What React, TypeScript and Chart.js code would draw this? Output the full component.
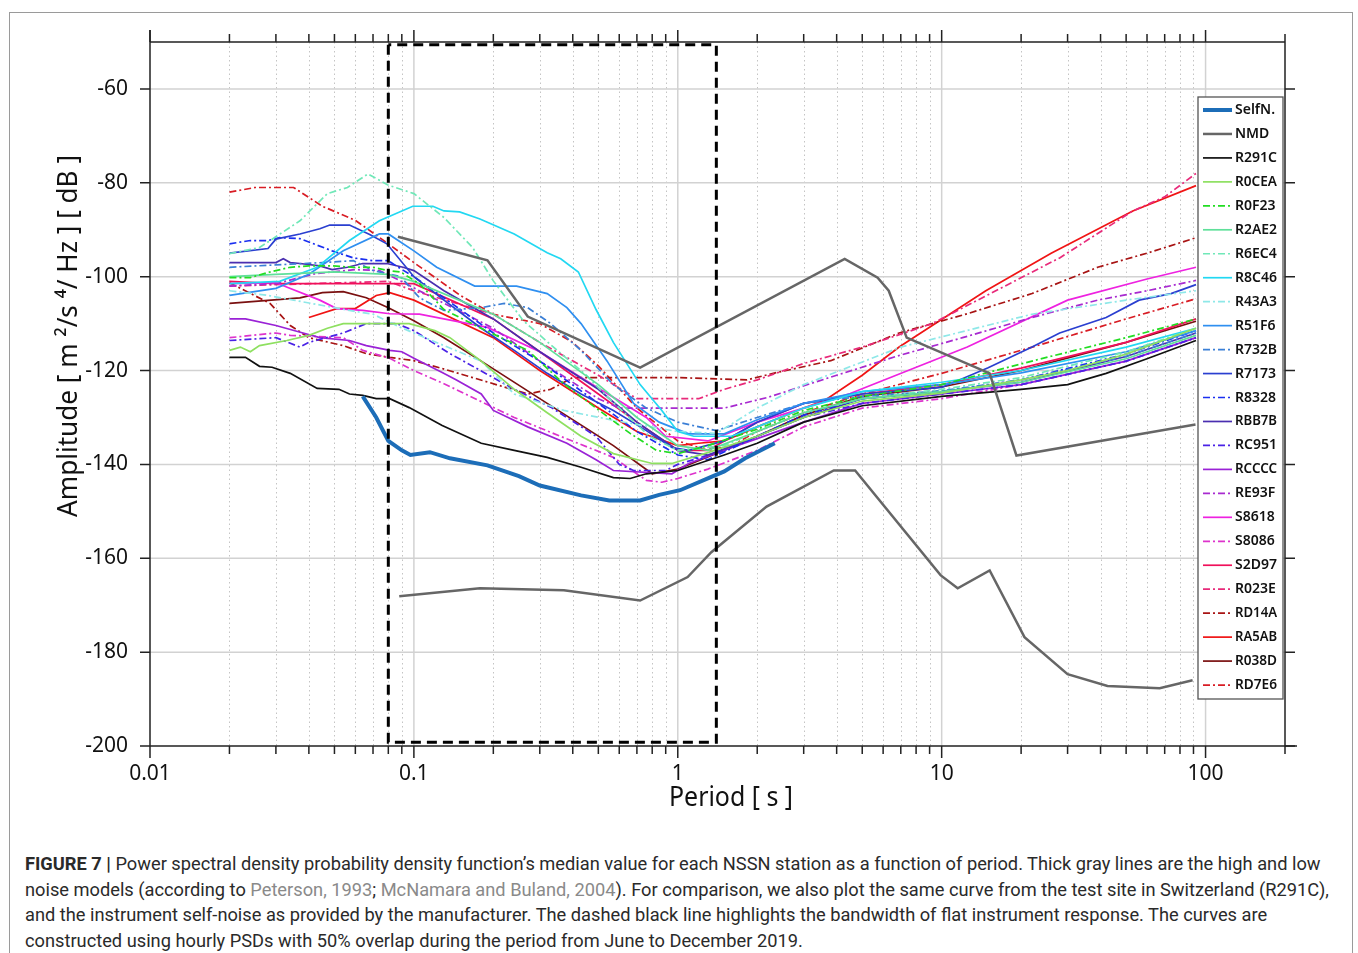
import React, { useEffect, useRef } from 'react';
import { Chart, registerables } from 'chart.js';

Chart.register(...registerables);

type Pt = [number, number];

// ---- axes ----
const X_MIN = 0.01;
const X_MAX = 200;
const Y_MIN = -200;
const Y_MAX = -50;
const X_DECADES = [0.01, 0.1, 1, 10, 100];
const Y_TICKS = [-200, -180, -160, -140, -120, -100, -80, -60];

// flat instrument response band (dashed box)
const BAND_PERIODS = [0.08, 1.4];
const BAND_DB = [-50.6, -199.2];

// ---- series: [period s, amplitude dB] ----
const SELFN: Pt[] = [[0.064, -125.5], [0.072, -130], [0.08, -135], [0.09, -137], [0.097, -138], [0.115, -137.4], [0.137, -138.7], [0.19, -140.2], [0.25, -142.5], [0.3, -144.5], [0.43, -146.6], [0.55, -147.7], [0.72, -147.7], [0.85, -146.5], [1.02, -145.5], [1.32, -142.8], [1.5, -141.5], [1.8, -138.7], [2.33, -135.5]];
const NMD_HIGH: Pt[] = [[0.087, -91.5], [0.19, -96.5], [0.27, -108.5], [0.72, -119.4], [4.29, -96.2], [5.72, -100.2], [6.3, -103], [7.37, -113], [15.2, -120.6], [19.2, -138.1], [91.6, -131.5]];
const NMD_LOW: Pt[] = [[0.088, -168.1], [0.178, -166.4], [0.37, -166.8], [0.72, -169], [1.09, -164], [1.34, -158.7], [2.17, -149], [3.9, -141.3], [4.7, -141.3], [9.9, -163.6], [11.5, -166.4], [15.2, -162.6], [20.6, -176.8], [30, -184.7], [42.5, -187.2], [67, -187.7], [89.3, -186]];
const R291C: Pt[] = [[0.02, -117.2], [0.023, -117.2], [0.026, -119.1], [0.029, -119.3], [0.034, -120.6], [0.043, -123.8], [0.052, -124], [0.057, -125], [0.064, -125.3], [0.072, -126], [0.081, -126], [0.096, -127.9], [0.128, -131.7], [0.18, -135.5], [0.24, -137], [0.32, -138.5], [0.43, -140.6], [0.57, -142.8], [0.66, -143], [0.76, -142], [1, -141.3], [1.5, -138], [2, -135.5], [3, -131], [5, -127.5], [10, -125.5], [20, -124], [30, -123], [42, -120.6], [60, -117.5], [92, -113.6]];
const R0CEA: Pt[] = [[0.02, -115.7], [0.022, -115], [0.024, -116], [0.026, -114.7], [0.033, -113.6], [0.04, -112.5], [0.047, -111], [0.054, -110], [0.096, -110], [0.12, -111.5], [0.137, -113], [0.18, -118], [0.24, -124], [0.32, -129], [0.43, -134], [0.57, -137.7], [0.8, -139.8], [0.95, -139.8], [1.3, -137.5], [2, -134], [3, -130], [5, -126.5], [10, -124.8], [20, -122], [30, -120], [50, -116.5], [92, -111]];
const R0F23: Pt[] = [[0.02, -100.2], [0.024, -100.2], [0.028, -99.1], [0.034, -98], [0.04, -97.7], [0.049, -97.7], [0.059, -98], [0.07, -98], [0.08, -98.7], [0.089, -99], [0.105, -101.5], [0.13, -107], [0.18, -111], [0.27, -115.7], [0.37, -122.8], [0.49, -128], [0.66, -133.4], [0.83, -137], [1, -137.7], [1.3, -136], [2, -132.5], [3, -128.5], [5, -125.5], [10, -123], [23, -117.7], [50, -113], [92, -109]];
const R2AE2: Pt[] = [[0.02, -100], [0.03, -99.5], [0.05, -99], [0.08, -99.5], [0.1, -101], [0.2, -108], [0.3, -114], [0.5, -123], [0.7, -130], [1, -136], [1.3, -137], [2, -133], [3, -129], [5, -126], [10, -124.5], [20, -122.5], [50, -117.5], [92, -112.5]];
const R6EC4: Pt[] = [[0.02, -95.1], [0.026, -93.8], [0.037, -88.1], [0.047, -82.3], [0.056, -81], [0.067, -78.1], [0.08, -80.5], [0.1, -82.3], [0.13, -87.4], [0.167, -93.8], [0.2, -100.9], [0.26, -109.4], [0.33, -114.5], [0.45, -121], [0.55, -126], [0.78, -134], [1, -137], [1.5, -136], [2, -133], [3, -129], [5, -126], [10, -124], [20, -121.5], [50, -116], [92, -111]];
const R8C46: Pt[] = [[0.02, -101.5], [0.031, -101], [0.043, -98], [0.057, -92.3], [0.074, -88.1], [0.099, -85], [0.118, -85], [0.13, -86], [0.149, -86.2], [0.178, -87.7], [0.24, -90.9], [0.32, -94.9], [0.36, -96.2], [0.42, -99], [0.49, -107], [0.57, -114], [0.72, -123], [0.87, -128.5], [1, -133], [1.15, -134], [1.6, -134], [2, -132], [3, -128], [5, -124.5], [10, -122.5], [20, -120], [50, -115], [92, -111]];
const R43A3: Pt[] = [[0.02, -103], [0.028, -104], [0.035, -105], [0.057, -107.2], [0.07, -108], [0.089, -110.8], [0.1, -112], [0.18, -118], [0.24, -125], [0.37, -128.5], [0.57, -130.6], [1, -133], [1.4, -133.4], [2, -128], [3, -123], [7, -115], [22, -108], [50, -105], [92, -103]];
const R51F6: Pt[] = [[0.02, -104], [0.03, -102.5], [0.04, -99.5], [0.054, -94.5], [0.074, -90.9], [0.08, -90.9], [0.1, -94.5], [0.122, -98], [0.17, -102], [0.245, -102], [0.32, -103.6], [0.38, -106.6], [0.43, -110], [0.54, -118], [0.68, -127], [0.85, -131], [1.1, -133.5], [1.5, -133.5], [2, -130.5], [3, -127], [5, -124.5], [10, -123], [20, -120.5], [50, -116], [92, -111.5]];
const R732B: Pt[] = [[0.02, -98], [0.03, -97.5], [0.045, -97], [0.059, -96.6], [0.07, -98.7], [0.089, -100], [0.105, -104.5], [0.13, -107.2], [0.18, -106.6], [0.22, -105.7], [0.27, -106.6], [0.33, -110], [0.43, -115.7], [0.57, -123], [0.76, -128], [1, -131], [1.4, -132.8], [2, -130], [3, -127], [5, -125.5], [10, -124.3], [20, -122], [50, -117], [92, -112]];
const R7173: Pt[] = [[0.02, -95], [0.028, -94], [0.03, -92], [0.037, -90.9], [0.044, -89.8], [0.048, -89], [0.057, -89], [0.068, -91], [0.079, -93], [0.1, -100], [0.13, -105], [0.18, -111], [0.24, -115.7], [0.32, -120.6], [0.43, -125], [0.57, -128.5], [0.76, -132.8], [0.95, -136.4], [1.1, -137], [1.5, -135], [2, -131], [3, -127], [5, -125], [10, -123.6], [15, -119.4], [22, -115], [28, -112], [42, -108.7], [56, -105], [74, -103.6], [92, -101.7]];
const R8328: Pt[] = [[0.02, -93], [0.024, -92.3], [0.028, -92.3], [0.031, -91.7], [0.037, -91.9], [0.049, -94.5], [0.059, -96], [0.07, -96.6], [0.08, -96.6], [0.089, -98.3], [0.1, -100], [0.15, -107], [0.2, -112], [0.3, -118], [0.5, -127], [0.7, -133], [1, -138], [1.3, -139], [2, -134], [3, -129.5], [5, -126], [10, -124.5], [20, -122], [50, -116.5], [92, -111.5]];
const RBB7B: Pt[] = [[0.02, -97], [0.03, -97], [0.032, -96.2], [0.034, -97], [0.037, -97.2], [0.044, -97.7], [0.049, -98.5], [0.056, -98], [0.064, -97.2], [0.079, -97.2], [0.091, -98], [0.1, -98.7], [0.13, -103], [0.2, -109], [0.3, -116], [0.5, -124], [0.7, -131], [1, -137], [1.3, -138], [2, -134], [3, -130], [5, -126], [10, -124.5], [20, -122.5], [50, -117], [92, -112]];
const RC951: Pt[] = [[0.02, -113.6], [0.03, -113], [0.037, -115], [0.04, -114], [0.054, -112], [0.066, -110], [0.086, -110], [0.1, -111.5], [0.137, -116.4], [0.24, -124], [0.33, -127.8], [0.49, -134], [0.6, -140], [0.68, -141.3], [0.9, -141.3], [1, -140], [1.5, -137], [2, -134], [3, -130], [5, -127], [10, -125], [20, -123], [50, -118], [92, -113]];
const RCCCC: Pt[] = [[0.02, -109], [0.023, -109], [0.03, -110.4], [0.038, -112], [0.044, -113], [0.057, -113.6], [0.066, -114.7], [0.081, -115.7], [0.09, -116], [0.1, -117.4], [0.128, -120.4], [0.145, -122], [0.18, -125], [0.2, -128.5], [0.27, -132], [0.38, -135.5], [0.49, -139], [0.57, -141.3], [0.95, -142], [1.1, -139.8], [1.5, -137], [2, -134.5], [3, -131], [5, -127], [10, -125], [20, -123], [50, -118], [92, -113]];
const RE93F: Pt[] = [[0.02, -102], [0.03, -101.5], [0.042, -99.4], [0.06, -98.5], [0.074, -98.7], [0.089, -100.9], [0.11, -103.6], [0.2, -111], [0.3, -118], [0.5, -126], [0.6, -128], [1.5, -128], [2.2, -125.7], [4, -121], [6.9, -116.8], [12, -113], [22, -108.7], [39, -105], [60, -103], [92, -100.8]];
const S8618: Pt[] = [[0.02, -101.5], [0.03, -101.3], [0.044, -105], [0.051, -106.8], [0.064, -107.2], [0.081, -107.9], [0.105, -108], [0.19, -110.8], [0.3, -116], [0.43, -121.5], [0.76, -130], [0.9, -134], [1.3, -135], [2, -131], [3, -128], [4.5, -124.9], [12.5, -115], [30, -105], [60, -100.5], [92, -98]];
const S8086: Pt[] = [[0.02, -113], [0.03, -112], [0.034, -112.5], [0.054, -113], [0.064, -115.7], [0.081, -117.4], [0.1, -120], [0.13, -122.8], [0.24, -130], [0.37, -134.3], [0.57, -138.5], [0.76, -143.4], [0.87, -143.8], [1, -143], [1.3, -141], [2, -137], [3, -132], [5, -128], [10, -126], [20, -123], [50, -118], [92, -113]];
const S2D97: Pt[] = [[0.02, -101], [0.03, -101.5], [0.05, -101.5], [0.1, -101.5], [0.2, -109], [0.3, -116], [0.5, -125], [0.7, -131], [1, -137], [1.3, -137], [2, -131], [3, -127], [5, -125], [10, -123], [20, -119.5], [50, -114], [92, -109]];
const R023E: Pt[] = [[0.02, -102], [0.04, -101.5], [0.08, -101], [0.1, -103], [0.2, -108], [0.3, -114], [0.5, -121], [0.7, -126], [1.2, -126], [1.5, -124], [2, -122], [3, -118.5], [5, -115], [9.2, -110], [28, -96], [53, -86], [70, -83], [92, -78]];
const RD14A: Pt[] = [[0.02, -101.3], [0.0285, -105.7], [0.034, -110.4], [0.04, -113], [0.054, -114.7], [0.066, -116.4], [0.081, -117.2], [0.1, -117.9], [0.125, -119.4], [0.167, -121.5], [0.27, -125], [0.33, -124], [0.4, -121.5], [1, -121.5], [1.83, -122], [2.3, -120.6], [3.8, -117.9], [6.9, -112], [12.5, -107.9], [22, -103.6], [39, -98], [60, -95], [92, -91.7]];
const RA5AB: Pt[] = [[0.04, -108.7], [0.051, -106.8], [0.06, -106.8], [0.072, -104], [0.081, -103.4], [0.1, -105], [0.2, -113], [0.3, -120], [0.5, -128], [0.7, -133], [1, -136], [1.2, -135.5], [1.5, -135], [2, -132], [3, -128], [3.6, -126.4], [5, -121], [6.9, -115], [14.7, -103], [26, -95], [53, -86], [92, -80.6]];
const R038D: Pt[] = [[0.02, -105.7], [0.037, -104.5], [0.045, -103.4], [0.054, -103.2], [0.066, -104.5], [0.08, -106.6], [0.1, -109.4], [0.13, -113], [0.18, -118], [0.32, -127], [0.57, -136], [0.8, -142], [1, -141], [1.5, -137], [2, -134], [3, -129.5], [5, -125.5], [10, -123.5], [20, -120], [50, -114], [92, -109.5]];
const RD7E6: Pt[] = [[0.02, -82], [0.025, -81], [0.035, -81], [0.045, -85], [0.06, -88], [0.08, -93], [0.1, -97], [0.15, -104], [0.2, -108], [0.3, -110], [0.4, -114], [0.5, -119], [0.7, -128], [1, -135], [1.3, -137], [1.6, -136], [2, -133], [3, -129], [5, -125], [10, -120.6], [23, -114.7], [50, -109], [92, -104.7]];

const SERIES: [string, Pt[], boolean][] = [
  ['SelfN.', SELFN, true],
  ['NMD', NMD_HIGH, true],
  ['NMD', NMD_LOW, false],
  ['R291C', R291C, true],
  ['R0CEA', R0CEA, true],
  ['R0F23', R0F23, true],
  ['R2AE2', R2AE2, true],
  ['R6EC4', R6EC4, true],
  ['R8C46', R8C46, true],
  ['R43A3', R43A3, true],
  ['R51F6', R51F6, true],
  ['R732B', R732B, true],
  ['R7173', R7173, true],
  ['R8328', R8328, true],
  ['RBB7B', RBB7B, true],
  ['RC951', RC951, true],
  ['RCCCC', RCCCC, true],
  ['RE93F', RE93F, true],
  ['S8618', S8618, true],
  ['S8086', S8086, true],
  ['S2D97', S2D97, true],
  ['R023E', R023E, true],
  ['RD14A', RD14A, true],
  ['RA5AB', RA5AB, true],
  ['R038D', R038D, true],
  ['RD7E6', RD7E6, true],
];

const DD = [7, 3, 2, 3];
const STYLES: Record<string, { color: string; width: number; dash: number[] }> = {
  'SelfN.': { color: '#1c6db8', width: 4, dash: [] },
  NMD: { color: '#666666', width: 2.5, dash: [] },
  R291C: { color: '#111111', width: 1.7, dash: [] },
  R0CEA: { color: '#8ee060', width: 1.7, dash: [] },
  R0F23: { color: '#22dd22', width: 1.7, dash: DD },
  R2AE2: { color: '#5fe09a', width: 1.7, dash: [] },
  R6EC4: { color: '#70e8b8', width: 1.7, dash: DD },
  R8C46: { color: '#22d8f2', width: 1.7, dash: [] },
  R43A3: { color: '#8ee8e8', width: 1.7, dash: DD },
  R51F6: { color: '#2f8ff0', width: 1.7, dash: [] },
  R732B: { color: '#3b7fd6', width: 1.7, dash: DD },
  R7173: { color: '#2a3fd0', width: 1.7, dash: [] },
  R8328: { color: '#1a2ff0', width: 1.7, dash: DD },
  RBB7B: { color: '#4a2fb0', width: 1.7, dash: [] },
  RC951: { color: '#4a22e6', width: 1.7, dash: DD },
  RCCCC: { color: '#9a22d6', width: 1.7, dash: [] },
  RE93F: { color: '#a82ad0', width: 1.7, dash: DD },
  S8618: { color: '#ee22e0', width: 1.7, dash: [] },
  S8086: { color: '#dd33cc', width: 1.7, dash: DD },
  S2D97: { color: '#f0105a', width: 1.7, dash: [] },
  R023E: { color: '#e82a7a', width: 1.7, dash: DD },
  RD14A: { color: '#a81414', width: 1.7, dash: DD },
  RA5AB: { color: '#f01414', width: 1.7, dash: [] },
  R038D: { color: '#7a1010', width: 1.7, dash: [] },
  RD7E6: { color: '#d81c24', width: 1.7, dash: DD },
};

const FONT = "'Noto Sans', 'DejaVu Sans', sans-serif";

// text squeezed to a target width (the original uses a narrow font)
function fitText(ctx: CanvasRenderingContext2D, text: string, x: number, y: number, maxW: number) {
  const w = ctx.measureText(text).width;
  const s = w > maxW ? maxW / w : 1;
  ctx.save();
  ctx.translate(x, y);
  ctx.scale(s, 1);
  ctx.fillText(text, 0, 0);
  ctx.restore();
}

const framePlugin = {
  id: 'frame',
  beforeDatasetsDraw(chart: any) {
    const { ctx, chartArea: a, scales } = chart;
    const xs = scales.x;
    const ys = scales.y;
    ctx.save();
    // minor dotted verticals
    ctx.strokeStyle = '#c4c4c4';
    ctx.lineWidth = 1;
    ctx.setLineDash([1.5, 3]);
    X_DECADES.forEach((d) => {
      for (let k = 2; k <= 9; k++) {
        const v = d * k;
        if (v >= X_MAX) continue;
        const px = Math.round(xs.getPixelForValue(v)) + 0.5;
        ctx.beginPath();
        ctx.moveTo(px, a.top);
        ctx.lineTo(px, a.bottom);
        ctx.stroke();
      }
    });
    ctx.setLineDash([]);
    ctx.strokeStyle = '#d2d2d2';
    ctx.lineWidth = 1.5;
    X_DECADES.slice(1).forEach((v) => {
      const px = xs.getPixelForValue(v);
      ctx.beginPath();
      ctx.moveTo(px, a.top);
      ctx.lineTo(px, a.bottom);
      ctx.stroke();
    });
    Y_TICKS.slice(1).forEach((v) => {
      const py = ys.getPixelForValue(v);
      ctx.beginPath();
      ctx.moveTo(a.left, py);
      ctx.lineTo(a.right, py);
      ctx.stroke();
    });
    ctx.restore();
  },
  afterDatasetsDraw(chart: any) {
    const { ctx, chartArea: a, scales } = chart;
    const xs = scales.x;
    const ys = scales.y;
    ctx.save();
    ctx.setLineDash([]);
    ctx.strokeStyle = '#222';
    ctx.lineWidth = 1.5;
    // frame
    ctx.beginPath();
    ctx.moveTo(a.left, a.top - 12);
    ctx.lineTo(a.left, a.bottom);
    ctx.moveTo(a.left, a.top);
    ctx.lineTo(a.right, a.top);
    ctx.moveTo(a.right, a.top);
    ctx.lineTo(a.right, a.bottom);
    ctx.moveTo(a.left, a.bottom);
    ctx.lineTo(a.right + 12, a.bottom);
    ctx.stroke();
    // x ticks top and bottom
    X_DECADES.forEach((d) => {
      for (let k = 1; k <= 9; k++) {
        const v = d * k;
        if (v > X_MAX) continue;
        const px = xs.getPixelForValue(v);
        const len = k === 1 ? 12 : 8;
        ctx.beginPath();
        ctx.moveTo(px, a.top);
        ctx.lineTo(px, a.top - len);
        ctx.moveTo(px, a.bottom);
        ctx.lineTo(px, a.bottom + len);
        ctx.stroke();
      }
    });
    // y ticks left and right
    Y_TICKS.forEach((v) => {
      const py = ys.getPixelForValue(v);
      ctx.beginPath();
      ctx.moveTo(a.left - 10, py);
      ctx.lineTo(a.left, py);
      ctx.moveTo(a.right, py);
      ctx.lineTo(a.right + 10, py);
      ctx.stroke();
    });

    // axis titles
    ctx.fillStyle = '#111';
    ctx.font = `27px ${FONT}`;
    ctx.textAlign = 'center';
    ctx.textBaseline = 'middle';
    fitText(ctx, 'Period [ s ]', 731, 798, 124);
    ctx.save();
    ctx.translate(69, 336);
    ctx.rotate(-Math.PI / 2);
    fitText(ctx, 'Amplitude [ m \u00b2/s \u2074/ Hz ] [ dB ]', 0, 0, 362);
    ctx.restore();

    // legend
    const lx = 1198;
    const ly = 97;
    const lw = 85;
    const lh = 602;
    ctx.fillStyle = '#fff';
    ctx.fillRect(lx, ly, lw, lh);
    ctx.strokeStyle = '#555';
    ctx.lineWidth = 1.3;
    ctx.strokeRect(lx, ly, lw, lh);
    const items = chart.data.datasets.filter((d: any) => d.showInLegend);
    ctx.font = `600 14px ${FONT}`;
    ctx.textAlign = 'left';
    ctx.textBaseline = 'middle';
    items.forEach((d: any, i: number) => {
      const yy = ly + 13 + i * 23.96;
      ctx.strokeStyle = d.borderColor;
      ctx.lineWidth = d.borderWidth;
      ctx.setLineDash(d.borderDash || []);
      ctx.beginPath();
      ctx.moveTo(lx + 5, yy);
      ctx.lineTo(lx + 34, yy);
      ctx.stroke();
      ctx.setLineDash([]);
      ctx.fillStyle = '#111';
      fitText(ctx, d.label, lx + 37, yy, 42);
    });
    ctx.restore();
  },
};

function buildDatasets() {
  const box = [
    { x: BAND_PERIODS[0], y: BAND_DB[0] },
    { x: BAND_PERIODS[0], y: BAND_DB[1] },
    { x: BAND_PERIODS[1], y: BAND_DB[1] },
    { x: BAND_PERIODS[1], y: BAND_DB[0] },
    { x: BAND_PERIODS[0], y: BAND_DB[0] },
  ];
  const sets: any[] = [
    {
      label: 'band',
      data: box,
      showLine: true,
      borderColor: '#000',
      borderWidth: 3,
      borderDash: [10, 6],
      pointRadius: 0,
      showInLegend: false,
    },
  ];
  SERIES.forEach(([name, pts, inLegend]) => {
    const st = STYLES[name];
    sets.push({
      label: name,
      data: pts.map(([x, y]) => ({ x, y })),
      showLine: true,
      borderColor: st.color,
      backgroundColor: st.color,
      borderWidth: st.width,
      borderDash: st.dash,
      pointRadius: 0,
      tension: 0,
      showInLegend: inLegend,
    });
  });
  return sets;
}

const PsdChart: React.FC = () => {
  const canvasRef = useRef<HTMLCanvasElement | null>(null);

  useEffect(() => {
    if (!canvasRef.current) return;
    const chart = new Chart(canvasRef.current, {
      type: 'scatter',
      data: { datasets: buildDatasets() },
      options: {
        responsive: false,
        animation: false,
        events: [],
        layout: { padding: { top: 42, right: 73, left: 0, bottom: 0 } },
        plugins: { legend: { display: false }, tooltip: { enabled: false } },
        scales: {
          x: {
            type: 'logarithmic',
            min: X_MIN,
            max: X_MAX,
            grid: { display: false },
            border: { display: false },
            afterBuildTicks: (s: any) => {
              s.ticks = X_DECADES.map((v) => ({ value: v }));
            },
            afterFit: (s: any) => {
              s.height = 84;
            },
            ticks: {
              autoSkip: false,
              maxRotation: 0,
              padding: 7,
              color: '#111',
              font: { family: FONT, size: 21 },
              callback: (v: any) => String(v),
            },
          },
          y: {
            type: 'linear',
            min: Y_MIN,
            max: Y_MAX,
            grid: { display: false },
            border: { display: false },
            afterBuildTicks: (s: any) => {
              s.ticks = Y_TICKS.map((v) => ({ value: v }));
            },
            afterFit: (s: any) => {
              s.width = 150;
            },
            ticks: {
              padding: 14,
              color: '#111',
              font: { family: FONT, size: 21 },
              callback: (v: any) => String(v),
            },
          },
        },
      },
      plugins: [framePlugin],
    } as any);
    return () => {
      chart.destroy();
    };
  }, []);

  return (
    <canvas
      ref={canvasRef}
      width={1358}
      height={830}
      style={{ position: 'absolute', left: 0, top: 0, width: 1358, height: 830 }}
    />
  );
};

const linkStyle: React.CSSProperties = { color: '#8a8a8a' };

export default function App() {
  return (
    <div
      style={{
        position: 'fixed',
        left: 0,
        top: 0,
        width: 1358,
        height: 953,
        background: '#fff',
        overflow: 'hidden',
      }}
    >
      <div
        style={{
          position: 'absolute',
          left: 9,
          top: 12,
          width: 1342,
          height: 980,
          border: '1px solid #9a9a9a',
        }}
      />
      <PsdChart />
      <div
        style={{
          position: 'absolute',
          left: 25,
          top: 851,
          fontFamily: "Roboto, 'Liberation Sans', sans-serif",
          fontSize: 18.25,
          lineHeight: '25.6px',
          color: '#2a2a2a',
          whiteSpace: 'nowrap',
        }}
      >
        <div>
          <b>FIGURE 7 |</b> Power spectral density probability density function’s median value for each NSSN station as a
          function of period. Thick gray lines are the high and low
        </div>
        <div>
          noise models (according to <span style={linkStyle}>Peterson, 1993</span>;{' '}
          <span style={linkStyle}>McNamara and Buland, 2004</span>). For comparison, we also plot the same curve from
          the test site in Switzerland (R291C),
        </div>
        <div>
          and the instrument self-noise as provided by the manufacturer. The dashed black line highlights the bandwidth
          of flat instrument response. The curves are
        </div>
        <div>constructed using hourly PSDs with 50% overlap during the period from June to December 2019.</div>
      </div>
    </div>
  );
}
